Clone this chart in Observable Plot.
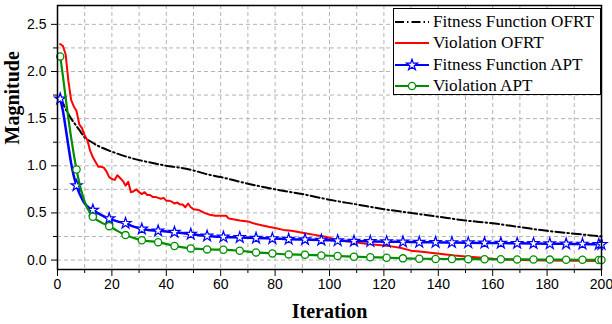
<!DOCTYPE html>
<html><head><meta charset="utf-8">
<script src="https://cdn.jsdelivr.net/npm/d3@7"></script>
<script src="https://cdn.jsdelivr.net/npm/@observablehq/plot@0.6"></script>
<style>
body{margin:0;background:#fff;}
#wrap{position:relative;width:612px;height:324px;}
#wrap > svg{overflow:visible;}
#legend{position:absolute;left:393px;top:8px;width:208px;height:87px;border:1px solid #000;background:#fff;box-sizing:border-box;font-family:"Liberation Serif","Times New Roman",serif;font-size:17px;white-space:nowrap;}
#legend .row{display:flex;align-items:center;height:21.5px;}
#legend svg{margin-left:1px;margin-right:4px;flex:none;}
</style>
</head><body>
<div id="wrap"><div id="legend"></div></div>
<script>
// Fitness Function OFRT (black dash-dot)
const fitOfrtX = [1,2,3,4,5,6,8,10,12,15,20,25,30,35,40,45,50,55,60,70,80,90,100,110,120,130,140,150,160,170,180,190,200];
const fitOfrtY = [1.71,1.66,1.60,1.55,1.50,1.46,1.38,1.30,1.26,1.21,1.15,1.10,1.06,1.03,1.00,0.98,0.95,0.91,0.88,0.81,0.75,0.70,0.64,0.59,0.54,0.50,0.46,0.42,0.39,0.35,0.31,0.28,0.25];

// Violation OFRT (red)
const vioOfrtX = [1,2,3,4,5,6,7,8,9,10,11,12,13,14,15,16,17,18,19,20,21,22,23,24,25,26,27,28,29,30,31,32,33,34,35,36,37,38,39,40,41,42,43,44,45,46,47,48,49,50,52,54,56,58,60,62,63,65,67,70,72,75,78,80,83,86,90,94,98,102,106,110,114,118,122,126,130,134,138,142,146,150,155,160,165,170,180,190,200];
const vioOfrtY = [2.29,2.27,2.18,1.90,1.70,1.63,1.58,1.44,1.40,1.32,1.27,1.16,1.09,1.04,0.99,0.99,0.98,0.94,0.88,0.86,0.85,0.90,0.87,0.84,0.79,0.83,0.72,0.73,0.75,0.72,0.70,0.72,0.69,0.69,0.67,0.67,0.66,0.65,0.66,0.63,0.63,0.62,0.60,0.61,0.59,0.59,0.56,0.60,0.56,0.54,0.53,0.50,0.48,0.47,0.47,0.47,0.44,0.43,0.42,0.41,0.39,0.37,0.35,0.34,0.32,0.31,0.29,0.27,0.25,0.22,0.20,0.185,0.17,0.16,0.148,0.13,0.10,0.088,0.075,0.062,0.048,0.038,0.028,0.015,0.006,0.0,-0.005,-0.008,-0.01];

// APT series (shared iterations)
const aptX = [1,2,3,4,5,6,7,8,9,10,11,13,16,19,22,25,28,31,37,43,49,55,61,67,73,79,85,91,97,103,109,115,121,127,133,139,145,151,157,163,169,175,181,187,193,199,200];
const fitAptY = [1.71,1.58,1.40,1.21,1.03,0.89,0.79,0.71,0.65,0.60,0.57,0.53,0.48,0.44,0.41,0.39,0.355,0.33,0.31,0.295,0.275,0.255,0.245,0.24,0.233,0.228,0.222,0.217,0.212,0.206,0.201,0.198,0.195,0.193,0.19,0.188,0.186,0.184,0.182,0.18,0.178,0.176,0.174,0.172,0.17,0.167,0.167];
const vioAptY = [2.16,1.95,1.72,1.50,1.30,1.12,0.96,0.82,0.71,0.62,0.55,0.46,0.40,0.36,0.31,0.265,0.235,0.21,0.19,0.15,0.124,0.113,0.11,0.099,0.081,0.07,0.06,0.056,0.049,0.043,0.036,0.03,0.025,0.018,0.014,0.012,0.011,0.01,0.009,0.008,0.007,0.006,0.005,0.004,0.003,0.002,0.002];

const xTicks = [0,20,40,60,80,100,120,140,160,180,200];
const yTicks = [0,0.5,1.0,1.5,2.0,2.5];

const fitOfrt = fitOfrtX.map((x,i)=>({x, y: fitOfrtY[i]}));
const vioOfrt = vioOfrtX.map((x,i)=>({x, y: vioOfrtY[i]}));
const fitApt = aptX.map((x,i)=>({x, y: fitAptY[i]}));
const vioApt = aptX.map((x,i)=>({x, y: vioAptY[i]}));
const isMarker = d => (d.x - 1) % 6 === 0 || d.x === 200;

const RED="#ff0000", BLUE="#0000ff", GREEN="#008f00";
const DASH="9,3,1.5,3";

const minorX = d3.range(0,201,10);
const minorY = d3.range(0,2.51,0.25);

const chart = Plot.plot({
  width: 612, height: 324,
  marginLeft: 57, marginRight: 11, marginTop: 5, marginBottom: 55,
  style: {fontFamily: "'Liberation Sans', Arial, sans-serif", fontSize: "14px", color: "#000", background: "#fff", overflow: "visible"},
  x: {domain: [0,200]},
  y: {domain: [-0.1, 2.7]},
  marks: [
    Plot.gridX(minorX, {stroke: "#b4b4b4", strokeOpacity: 1, strokeDasharray: "4,3"}),
    Plot.gridY(minorY, {stroke: "#b4b4b4", strokeOpacity: 1, strokeDasharray: "4,3"}),
    Plot.axisX(minorX.filter(v => !xTicks.includes(v)), {tickSize: 4, tickFormat: () => "", label: null, stroke: "#000"}),
    Plot.axisX(xTicks, {tickSize: 7, tickPadding: 3, label: null, tickFormat: d3.format("d"), stroke: "#000"}),
    Plot.axisY(minorY.filter(v => !yTicks.includes(v)), {tickSize: 4, tickFormat: () => "", label: null, stroke: "#000"}),
    Plot.axisY(yTicks, {tickSize: 6, tickPadding: 5, label: null, tickFormat: d3.format(".1f"), stroke: "#000"}),
    Plot.lineY(fitOfrt, {x: "x", y: "y", stroke: "#000", strokeWidth: 2, strokeDasharray: DASH, curve: "monotone-x"}),
    Plot.lineY(vioOfrt, {x: "x", y: "y", stroke: RED, strokeWidth: 2}),
    Plot.lineY(fitApt, {x: "x", y: "y", stroke: BLUE, strokeWidth: 2.5, curve: "monotone-x"}),
    Plot.dot(fitApt.filter(isMarker), {x: "x", y: "y", symbol: "star", r: 3.5, fill: "#fff", stroke: BLUE, strokeWidth: 1.2}),
    Plot.lineY(vioApt, {x: "x", y: "y", stroke: GREEN, strokeWidth: 2.2, curve: "monotone-x"}),
    Plot.dot(vioApt.filter(isMarker), {x: "x", y: "y", symbol: "circle", r: 3.6, fill: "#fff", stroke: GREEN, strokeWidth: 1.3}),
    Plot.frame({stroke: "#000", strokeWidth: 1.5}),
    Plot.text(["Iteration"], {frameAnchor: "bottom", dy: 42, lineAnchor: "middle", fontFamily: "'Liberation Serif', serif", fontWeight: "bold", fontSize: 20, fill: "#000"}),
    Plot.text(["Magnitude"], {frameAnchor: "left", dx: -45, dy: 7, rotate: -90, lineAnchor: "middle", fontFamily: "'Liberation Serif', serif", fontWeight: "bold", fontSize: 20, fill: "#000"})
  ]
});
document.getElementById("wrap").prepend(chart);

// Legend
const legendItems = [
  {label: "Fitness Function OFRT", color: "#000", dash: DASH, marker: null},
  {label: "Violation OFRT", color: RED, dash: null, marker: null},
  {label: "Fitness Function APT", color: BLUE, dash: null, marker: "star"},
  {label: "Violation APT", color: GREEN, dash: null, marker: "circle"}
];
const leg = d3.select("#legend").style("padding-top", "2px");
const spans = [];
legendItems.forEach(it => {
  const row = leg.append("div").attr("class", "row");
  const s = row.append("svg").attr("width", 34).attr("height", 14);
  s.append("line").attr("x1", 0).attr("x2", 34).attr("y1", 7).attr("y2", 7)
    .attr("stroke", it.color).attr("stroke-width", 2.2).attr("stroke-dasharray", it.dash);
  if (it.marker === "star") {
    s.append("path").attr("transform", "translate(17,7)").attr("d", d3.symbol(d3.symbolStar, 38)())
      .attr("fill", "#fff").attr("stroke", it.color).attr("stroke-width", 1.2);
  } else if (it.marker === "circle") {
    s.append("circle").attr("cx", 17).attr("cy", 7).attr("r", 3.6)
      .attr("fill", "#fff").attr("stroke", it.color).attr("stroke-width", 1.3);
  }
  spans.push(row.append("span").text(it.label).node());
});
// fit the longest label to the reference's width (~161px)
const w = spans[0].getBoundingClientRect().width;
if (w > 0) {
  const fs = Math.max(14, Math.min(18, 17 * 161 / w));
  d3.select("#legend").style("font-size", fs + "px");
}
</script>
</body></html>
